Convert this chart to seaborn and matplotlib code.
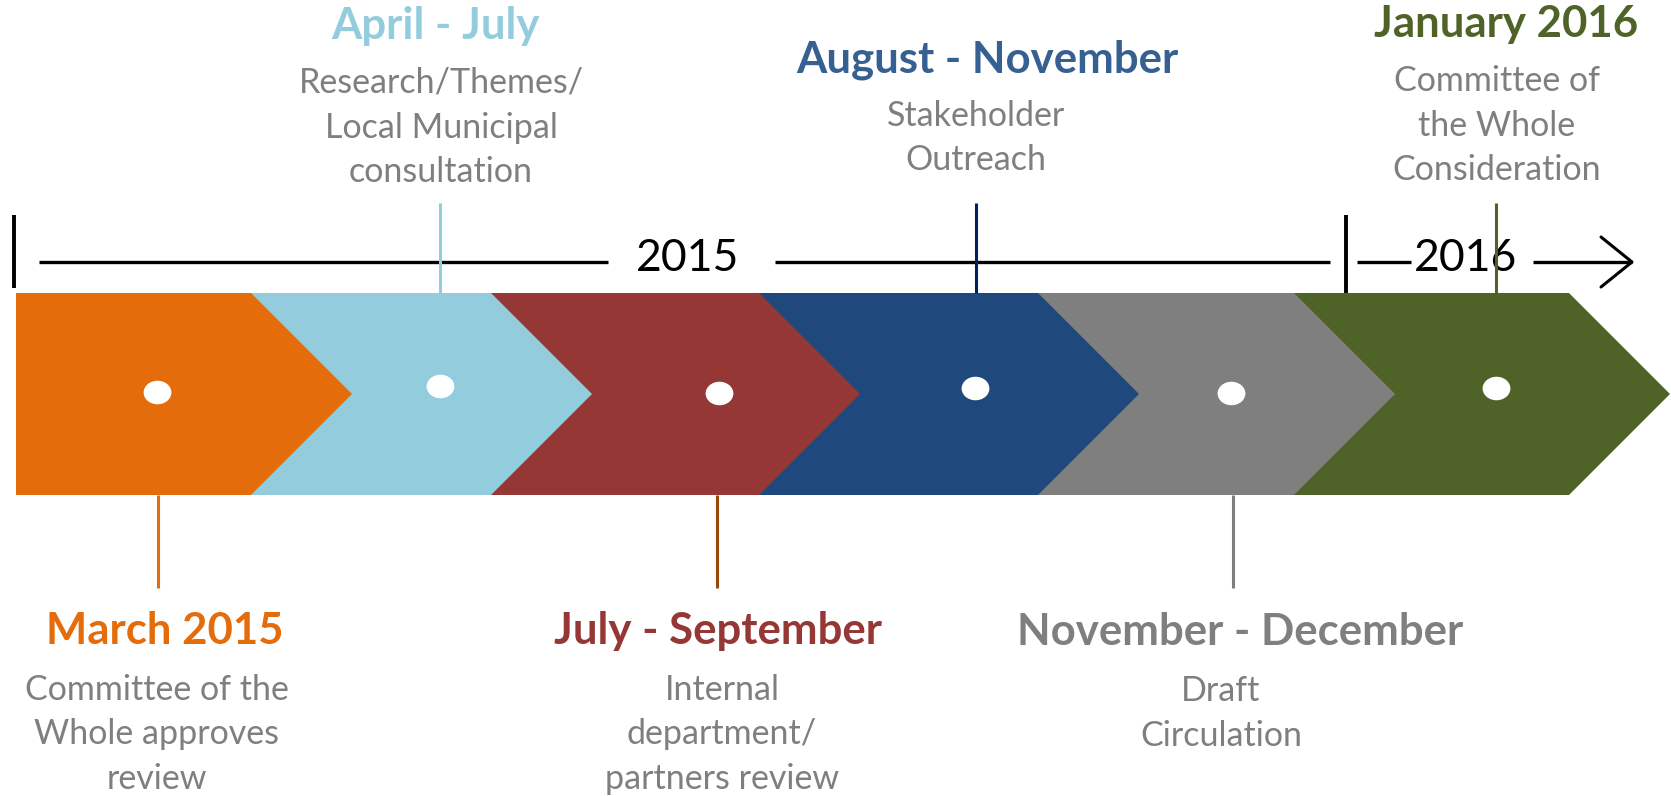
import numpy as np
import seaborn as sns
import matplotlib.pyplot as plt
from matplotlib.patches import Polygon
from matplotlib.path import Path
from matplotlib.transforms import Affine2D

# Phases of the review timeline (canvas units, y grows downward)
phase_titles = ["March 2015", "April - July", "July - September",
                "August - November", "November - December", "January 2016"]
phase_notes = [["Committee of the", "Whole approves", "review"],
               ["Research/Themes/", "Local Municipal", "consultation"],
               ["Internal", "department/", "partners review"],
               ["Stakeholder", "Outreach"],
               ["Draft", "Circulation"],
               ["Committee of", "the Whole", "Consideration"]]
label_side = ["below", "above", "below", "above", "below", "above"]

band_colors = ["#E46C0A", "#93CDDD", "#953735", "#1F497D", "#7F7F7F", "#4F6228"]
title_colors = ["#E46C0A", "#93CDDD", "#953735", "#376092", "#7F7F7F", "#4F6228"]
stem_colors = ["#E46C0A", "#93CDDD", "#984807", "#002060", "#7F7F7F", "#4F6228"]

phase_start = [16, 251, 491, 759, 1038, 1294]
phase_end = [251, 491, 759, 1038, 1294, 1569]
tip_depth = 101
band_top, band_bottom = 293, 495

dot_x = [157, 440, 719, 975, 1231, 1496]
dot_y = [392, 386, 393, 388, 393, 388]

stem_x = [158, 440, 717, 976, 1233, 1496]
title_x = [165, 435, 718, 987, 1240, 1506]
note_x = [157, 441, 722, 976, 1221, 1497]
title_y = [644, 39, 644, 72, 645, 37]

# year axis
axis_y = 262
axis_segments = [(39, 608), (775, 1330), (1357, 1411), (1533, 1632)]
year_labels = ["2015", "2016"]
year_x = [688, 1465]
year_bars = [(14, 215, 288), (1346, 215, 293)]

sns.set_theme(style="white")
plt.rcParams['font.family'] = ['Lato', 'DejaVu Sans']

fig = plt.figure(figsize=(16.71, 7.96), dpi=100)
ax = fig.add_axes([0, 0, 1, 1])
ax.set_xlim(0, 1671)
ax.set_ylim(796, 0)
ax.axis("off")

# chevron band: draw right to left so each tip sits on the next block
mid = (band_top + band_bottom) / 2
for i in reversed(range(len(phase_titles))):
    x0, x1 = phase_start[i], phase_end[i]
    pts = [(x0, band_top), (x1, band_top), (x1 + tip_depth, mid),
           (x1, band_bottom), (x0, band_bottom)]
    ax.add_patch(Polygon(pts, closed=True, facecolor=band_colors[i],
                         edgecolor="none", zorder=2 + (len(phase_titles) - i) * 0.01))

# white dots (slightly wide ellipses)
ell = Path.unit_circle().transformed(Affine2D().scale(1.18, 1.0))
sns.scatterplot(x=dot_x, y=dot_y, ax=ax, color="white", marker=ell,
                s=400, linewidth=0, zorder=5, legend=False)

# stems and labels
for i in range(len(phase_titles)):
    if label_side[i] == "above":
        ax.plot([stem_x[i], stem_x[i]], [203, band_top], color=stem_colors[i],
                lw=2.2, zorder=4, solid_capstyle="butt")
        first_note = title_y[i] + 54
    else:
        ax.plot([stem_x[i], stem_x[i]], [band_bottom, 588], color=stem_colors[i],
                lw=2.2, zorder=4, solid_capstyle="butt")
        first_note = title_y[i] + 56
    ax.text(title_x[i], title_y[i], phase_titles[i], color=title_colors[i],
            fontsize=31.5, fontweight="bold", ha="center", va="baseline")
    for k, line in enumerate(phase_notes[i]):
        ax.text(note_x[i], first_note + 44.5 * k, line, color="#7F7F7F",
                fontsize=24.5, ha="center", va="baseline")

# year axis with arrow
for a, b in axis_segments:
    ax.plot([a, b], [axis_y, axis_y], color="black", lw=2.4, zorder=3,
            solid_capstyle="butt")
for bx, b0, b1 in year_bars:
    ax.plot([bx, bx], [b0, b1], color="black", lw=2.8, zorder=3,
            solid_capstyle="butt")
ax.plot([1601, 1632, 1601], [237, axis_y, 287], color="black", lw=2.2, zorder=3)
for lab, yx in zip(year_labels, year_x):
    ax.text(yx, 271, lab, color="black", fontsize=32, ha="center",
            va="baseline", zorder=3)

fig.savefig("out.png", dpi=100)
